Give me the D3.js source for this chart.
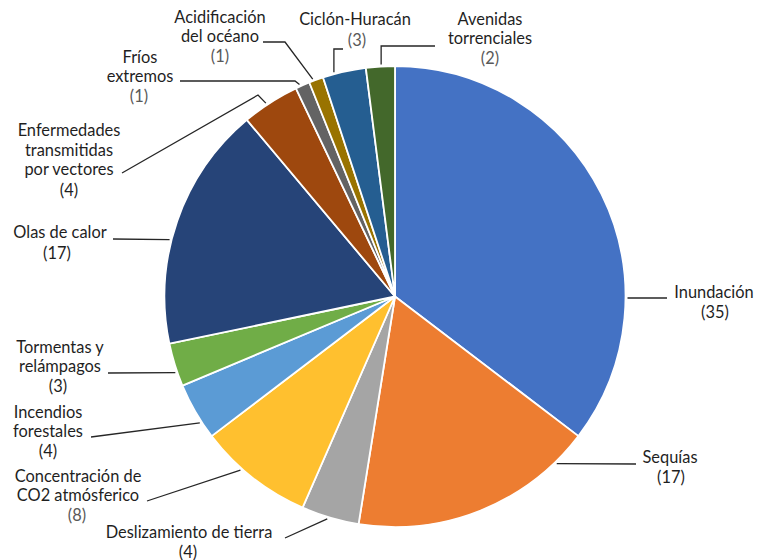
<!DOCTYPE html>
<html>
<head>
  <meta charset="utf-8">
  <title>amenazas climaticas</title>
  <style>
    body { margin: 0; background: #fff; }
    svg text { font-family: Lato, "Open Sans", sans-serif; font-size: 16.4px; }
  </style>
</head>
<body>
  <svg width="759" height="560" class="chart"></svg>

  <script src="https://d3js.org/d3.v7.min.js"></script>
  <script type="text/javascript">

  // data (clockwise from 12 o'clock)
  var categories = ["Inundación", "Sequías", "Deslizamiento de tierra", "Concentración de CO2 atmósferico",
    "Incendios forestales", "Tormentas y relámpagos", "Olas de calor", "Enfermedades transmitidas por vectores",
    "Fríos extremos", "Acidificación del océano", "Ciclón-Huracán", "Avenidas torrenciales"];
  var values = [35, 17, 4, 8, 4, 3, 17, 4, 1, 1, 3, 2];
  var colors = ["#4472c4", "#ed7d31", "#a5a5a5", "#ffc02f", "#5b9bd5", "#70ad47",
    "#264478", "#9e480e", "#636363", "#997300", "#255e91", "#43682b"];

  // how the category names are broken over lines
  var labelLines = [["Inundación"], ["Sequías"], ["Deslizamiento de tierra"], ["Concentración de", "CO2 atmósferico"],
    ["Incendios", "forestales"], ["Tormentas y", "relámpagos"], ["Olas de calor"], ["Enfermedades", "transmitidas", "por vectores"],
    ["Fríos", "extremos"], ["Acidificación", "del océano"], ["Ciclón-Huracán"], ["Avenidas", "torrenciales"]];

  // label layout: centre x, first baseline, value baseline, leader start, optional knee, where on the slice the leader lands (0..1)
  var labelLayout = [
    {x: 714, y: 298,   vy: 318,   vx: 715, a: [667, 298], f: 0.71},
    {x: 670, y: 463,   vy: 483,   vx: 671, a: [636, 464], f: 0.14},
    {x: 189, y: 538,   vy: 558,   vx: 188, a: [285, 538], f: 0.54},
    {x: 78,  y: 481.5, vy: 521,   vx: 77,  a: [147, 501], f: 0.62},
    {x: 48,  y: 417.5, vy: 457,   vx: 48,  a: [91, 437],  f: 0.30},
    {x: 60,  y: 352.5, vy: 392,   vx: 58,  a: [108, 373], f: 0.33},
    {x: 60,  y: 238,   vy: 259,   vx: 57,  a: [113, 239], f: 0.42},
    {x: 69,  y: 136,   vy: 195.5, vx: 69,  a: [122, 173], k: [258, 95], f: 0.43},
    {x: 140, y: 62.5,  vy: 102,   vx: 139, a: [180, 81],  k: [295, 81], f: 0.33},
    {x: 220, y: 22.5,  vy: 62,    vx: 220, a: [263, 42],  k: [285, 42], f: 0.3},
    {x: 355, y: 25,    vy: 46,    vx: 357, a: [343, 49],  kv: true, f: 0.27},
    {x: 490, y: 24.5,  vy: 64,    vx: 490, a: [435, 46],  kv: true, f: 0.53}
  ];
  var lineStep = 19.7;
  var grayValue = [false, false, false, true, false, false, false, false, true, true, true, true];

  var svg = d3.select(".chart");
  var cx = 395, cy = 296.5, r = 230.5;

  var pie = d3.pie().sort(null).value(function(d) { return d; });
  var arcs = pie(values);
  var arc = d3.arc().innerRadius(0).outerRadius(r);

  var g = svg.append("g").attr("transform", "translate(" + cx + "," + cy + ")");

  g.selectAll("path")
    .data(arcs)
    .enter().append("path")
    .attr("d", arc)
    .style("fill", function(d, i) { return colors[i]; })
    .style("stroke", "#fff")
    .style("stroke-width", 1.8)
    .style("stroke-linejoin", "round");

  // leader lines
  var leaders = svg.append("g");
  arcs.forEach(function(d, i) {
    var L = labelLayout[i];
    var ang = d.startAngle + L.f * (d.endAngle - d.startAngle);
    var ex = cx + (r + 2) * Math.sin(ang);
    var ey = cy - (r + 2) * Math.cos(ang);
    var pts = [L.a];
    if (L.k) pts.push(L.k);
    if (L.kv) pts.push([ex, L.a[1]]);
    pts.push([ex, ey]);
    leaders.append("path")
      .attr("d", d3.line()(pts))
      .style("fill", "none")
      .style("stroke", "#262626")
      .style("stroke-width", 1.3);
  });

  // labels
  var labels = svg.append("g");
  labelLines.forEach(function(lines, i) {
    var L = labelLayout[i];
    var t = labels.append("text")
      .attr("text-anchor", "middle")
      .style("fill", "#1f1f1f");
    lines.forEach(function(s, j) {
      t.append("tspan").attr("x", L.x).attr("y", L.y + j * lineStep).text(s);
    });
    labels.append("text")
      .attr("text-anchor", "middle")
      .attr("x", L.vx).attr("y", L.vy)
      .style("fill", grayValue[i] ? "#595959" : "#1f1f1f")
      .text("(" + values[i] + ")");
  });

  </script>
</body>
</html>
